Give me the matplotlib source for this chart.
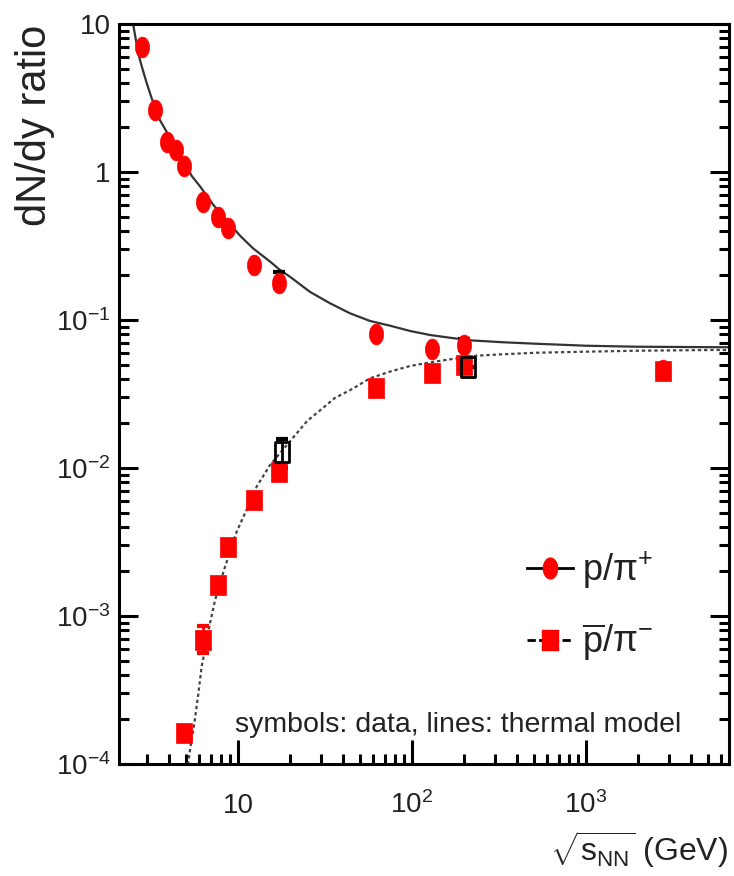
"""p/pi and pbar/pi ratios vs sqrt(s_NN) with thermal-model curves"""
import numpy as np
import matplotlib
matplotlib.use('Agg')
from matplotlib import pyplot as plt
from matplotlib.lines import Line2D
from matplotlib.path import Path
from matplotlib.ticker import FixedLocator, LogLocator, NullFormatter

FONT = 'Liberation Sans'
plt.rcParams['font.family'] = [FONT, 'DejaVu Sans']
plt.rcParams['mathtext.fontset'] = 'custom'
plt.rcParams['mathtext.rm'] = FONT
plt.rcParams['mathtext.it'] = FONT + ':italic'
plt.rcParams['mathtext.sf'] = FONT
plt.rcParams['text.color'] = '#222222'

# data: p/pi+ (red circles)
P_X = [2.8, 3.35, 3.9, 4.4, 4.9, 6.3, 7.7, 8.8, 12.4, 17.3, 62.4, 130, 200, 2760]
P_Y = [7.0, 2.63, 1.60, 1.41, 1.10, 0.63, 0.50, 0.42, 0.235, 0.177, 0.081, 0.064, 0.068, 0.046]
# black error caps sitting behind two of the circles
P_ERR_X = [17.3, 200]
P_ERR_Y = [0.177, 0.068]
P_ERR_LO = [0.012, 0.005]
P_ERR_HI = [0.035, 0.006]

# data: pbar/pi- (red squares)
PB_X = [4.9, 6.3, 7.7, 8.8, 12.4, 17.3, 62.4, 130, 200, 2760]
PB_Y = [1.63e-4, 6.9e-4, 1.62e-3, 2.94e-3, 6.1e-3, 9.4e-3, 0.0345, 0.0436, 0.0497, 0.0455]
PB_ERR_X = [6.3]
PB_ERR_Y = [6.9e-4]
PB_ERR_LO = [1.3e-4]
PB_ERR_HI = [1.6e-4]

# other pbar/pi- data (open black squares)
OPEN_X = [18.0, 210]
OPEN_Y = [0.0129, 0.0483]
OPEN_ERR_LO = [0.0029, 0.0]
OPEN_ERR_HI = [0.0029, 0.0]

# thermal model
UP_X = [2.48, 2.50, 2.67, 2.80, 2.99, 3.19, 3.56, 4.4, 5.42, 6.05, 7.21, 10.3, 12.2,
        15.3, 17.4, 19.9, 25.9, 33.8, 44.0, 57.4, 74.8, 97.5, 127, 165, 215, 335, 521,
        1009, 1954, 5390, 6640]
UP_Y = [10.2, 9.85, 6.34, 5.15, 3.97, 3.15, 2.24, 1.45, 0.94, 0.80, 0.60, 0.37, 0.305,
        0.248, 0.218, 0.196, 0.155, 0.1297, 0.111, 0.0985, 0.0915, 0.0843, 0.0792, 0.0759,
        0.0729, 0.0707, 0.0691, 0.067, 0.066, 0.0655, 0.0655]
LOW_X = [5.1, 5.35, 5.61, 5.92, 6.18, 6.90, 7.38, 8.42, 9.83, 10.97, 12.8, 15.3, 21.7,
         25.0, 29.6, 36.0, 46.0, 57.4, 74.8, 97.5, 127, 165, 235, 335, 521, 1009, 1954,
         5390, 6640]
LOW_Y = [9e-5, 1.34e-4, 1.88e-4, 3.0e-4, 4.55e-4, 8.9e-4, 1.28e-3, 2.15e-3, 3.72e-3,
         4.94e-3, 7.48e-3, 0.0105, 0.0171, 0.0208, 0.0245, 0.0297, 0.0345, 0.0404,
         0.0448, 0.0489, 0.0517, 0.0542, 0.0574, 0.0587, 0.0601, 0.0611, 0.062, 0.0627,
         0.0627]

Y_TICKS = [1e-4, 1e-3, 1e-2, 1e-1, 1, 10]
Y_LABELS = [r'$\mathregular{10^{-4}}$', r'$\mathregular{10^{-3}}$', r'$\mathregular{10^{-2}}$',
            r'$\mathregular{10^{-1}}$', '1', '10']
X_TICKS = [10, 100, 1000]
X_LABELS = ['10', r'$\mathregular{10^{2}}$', r'$\mathregular{10^{3}}$']

RED = '#ff0000'

# picture is squashed sideways, so the symbols are taller than wide
_t = np.linspace(0, 2 * np.pi, 41)
ELLIPSE = Path(np.column_stack([0.68 * np.cos(_t), np.sin(_t)]))
RECT = Path([(-0.75, -1), (0.75, -1), (0.75, 1), (-0.75, 1), (-0.75, -1)],
            [Path.MOVETO, Path.LINETO, Path.LINETO, Path.LINETO, Path.CLOSEPOLY])

fig = plt.figure(figsize=(7.34, 8.76), dpi=100)
ax = fig.add_axes([119 / 734, 1 - 764 / 876, 610 / 734, 740 / 876])
ax.set_xscale('log')
ax.set_yscale('log')
ax.set_xlim(2.07, 6640)
ax.set_ylim(1e-4, 10)

ax.plot(UP_X, UP_Y, color='#333333', lw=1.6, zorder=2)
ax.plot(LOW_X, LOW_Y, color='#444444', lw=1.6, ls=(0, (1.5, 1.3)), zorder=2)

ax.errorbar(P_ERR_X, P_ERR_Y, yerr=[P_ERR_LO, P_ERR_HI], fmt='none', ecolor='black',
            elinewidth=2, capsize=4, capthick=3, zorder=3)
ax.errorbar(OPEN_X, OPEN_Y, yerr=[OPEN_ERR_LO, OPEN_ERR_HI], fmt='none', ecolor='black',
            elinewidth=2, capsize=4, capthick=3, zorder=3)
ax.errorbar(PB_ERR_X, PB_ERR_Y, yerr=[PB_ERR_LO, PB_ERR_HI], fmt='none', ecolor=RED,
            elinewidth=2, capsize=4, capthick=3, zorder=3)

ax.plot(P_X, P_Y, ls='none', marker=ELLIPSE, ms=15, mfc=RED, mec=RED, mew=0.5, zorder=4)
ax.plot(PB_X, PB_Y, ls='none', marker=RECT, ms=14.5, mfc=RED, mec=RED, mew=0.5, zorder=4)
ax.plot(OPEN_X, OPEN_Y, ls='none', marker=RECT, ms=14, mfc='none', mec='black', mew=2,
        zorder=5)

# axes styling
for sp in ax.spines.values():
    sp.set_linewidth(2.2)
ax.xaxis.set_major_locator(FixedLocator(X_TICKS))
ax.set_xticklabels(X_LABELS)
ax.yaxis.set_major_locator(FixedLocator(Y_TICKS))
ax.set_yticklabels(Y_LABELS)
ax.xaxis.set_minor_locator(LogLocator(base=10, subs=np.arange(2, 10), numticks=20))
ax.yaxis.set_minor_locator(LogLocator(base=10, subs=np.arange(2, 10), numticks=20))
ax.xaxis.set_minor_formatter(NullFormatter())
ax.yaxis.set_minor_formatter(NullFormatter())
ax.tick_params(axis='both', which='both', direction='in', width=2.2, colors='black',
               labelcolor='#222222', labelsize=20)
ax.tick_params(axis='x', which='major', length=17, pad=35, top=False)
ax.tick_params(axis='x', which='minor', length=7, top=False)
ax.tick_params(axis='y', which='major', length=14, pad=6, left=True, right=True)
ax.tick_params(axis='y', which='minor', length=7, left=True, right=True)
for tk in ax.xaxis.get_major_ticks():
    tk.label1.set_va('baseline')

fig.text(35 / 734, 1 - 25 / 876, 'dN/dy ratio', rotation=90, ha='center', va='top',
         fontsize=30)
fig.text(728 / 734, 1 - 850 / 876, r'$\mathregular{\sqrt{s_{NN}}}$ (GeV)', ha='right',
         va='center', fontsize=23)
ax.text((235 - 119) / 610, (764 - 732) / 740, 'symbols: data, lines: thermal model',
        transform=ax.transAxes, ha='left', va='baseline', fontsize=20.5)

handles = [
    Line2D([], [], color='black', lw=2, marker=ELLIPSE, ms=15, mfc=RED, mec=RED),
    Line2D([], [], color='black', lw=2, ls=(0, (3, 1.2)), marker=RECT, ms=14.5,
           mfc=RED, mec=RED),
]
labels = [r'p/$\mathregular{\pi^{+}}$', r'$\mathregular{\overline{p}}$/$\mathregular{\pi^{-}}$']
ax.legend(handles, labels, loc='upper left', bbox_to_anchor=(527 / 734, 1 - 550 / 876),
          bbox_transform=fig.transFigure, frameon=False, fontsize=26, borderpad=0,
          borderaxespad=0, handlelength=1.27, handletextpad=0.25, labelspacing=0.83)

plt.savefig('out.png', dpi=100)
plt.close(fig)
